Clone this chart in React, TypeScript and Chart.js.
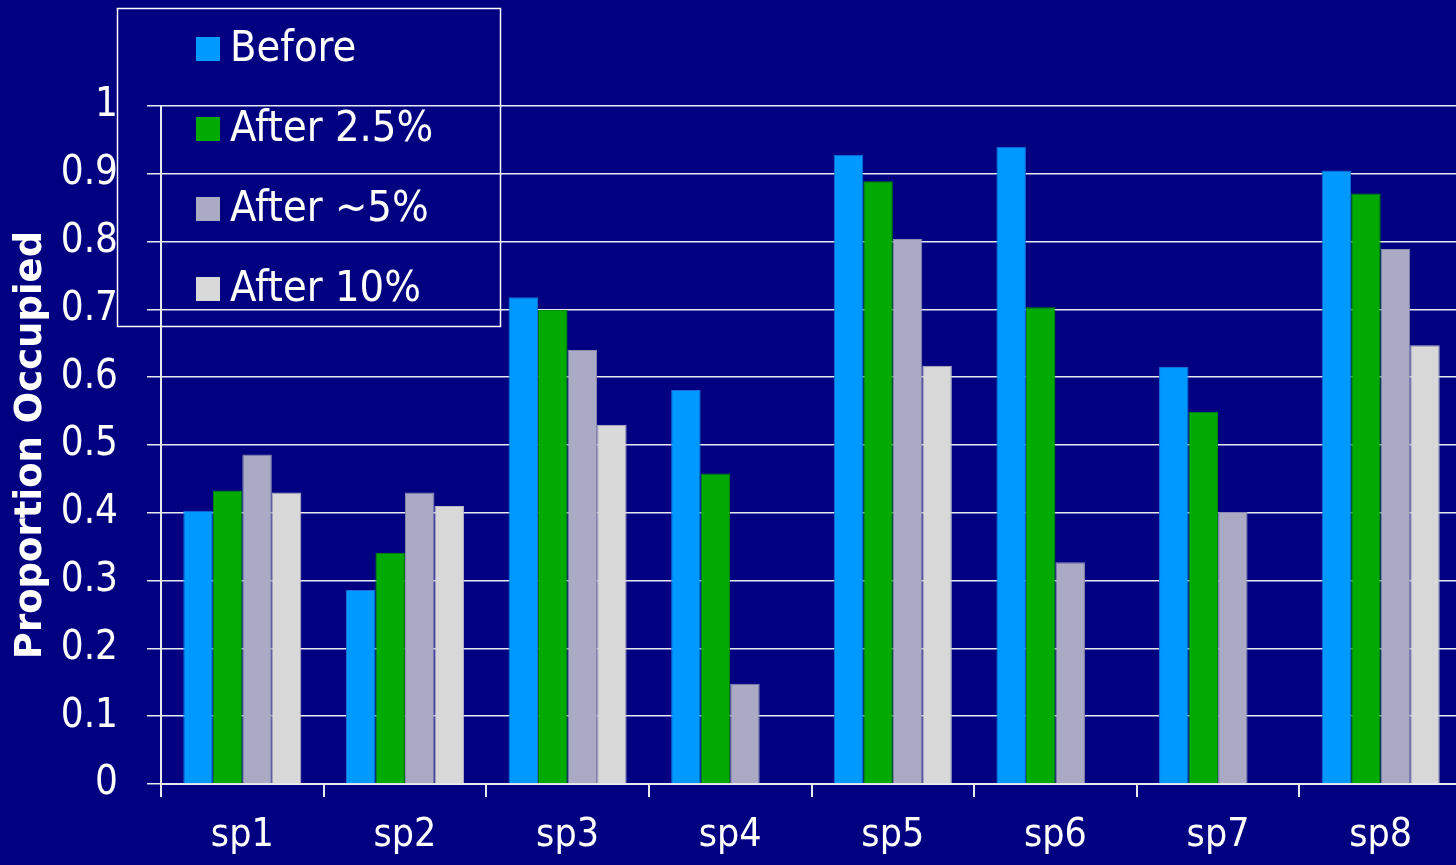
import React, { useEffect, useRef } from "react";
import { Chart, registerables } from "chart.js";

Chart.register(...registerables);

const categories = ["sp1", "sp2", "sp3", "sp4", "sp5", "sp6", "sp7", "sp8"];
const seriesLabels = ["Before", "After 2.5%", "After ~5%", "After 10%"];
const before = [0.403, 0.286, 0.718, 0.581, 0.928, 0.94, 0.615, 0.905];
const after25 = [0.433, 0.341, 0.699, 0.458, 0.889, 0.703, 0.549, 0.871];
const after5 = [0.486, 0.43, 0.64, 0.148, 0.804, 0.327, 0.401, 0.789];
const after10 = [0.43, 0.41, 0.53, null, 0.617, null, null, 0.647];
const yTicks = [0, 0.1, 0.2, 0.3, 0.4, 0.5, 0.6, 0.7, 0.8, 0.9, 1];

const fills = ["#0099FF", "#00AA00", "#AAAAC4", "#D8D8D8"];
const borders = ["#1470D8", "#008800", "#8C8CB0", "#B8B8C8"];
const FONT = "'DejaVu Sans Condensed', 'DejaVu Sans', sans-serif";
const TITLE_FONT = "'DejaVu Sans', sans-serif";
const BG = "#000080";

const legendPlugin = {
  id: "boxLegend",
  afterDraw(chart: any) {
    const ctx = chart.ctx;
    ctx.save();
    ctx.strokeStyle = "#FFFFFF";
    ctx.lineWidth = 1.5;
    ctx.strokeRect(117.5, 8.5, 383, 318);
    ctx.font = `43px ${FONT}`;
    ctx.textBaseline = "middle";
    ctx.textAlign = "left";
    chart.data.datasets.forEach((ds: any, i: number) => {
      const cy = 49 + i * 80;
      ctx.fillStyle = ds.backgroundColor;
      ctx.fillRect(196, cy - 12, 24, 24);
      ctx.fillStyle = "#FFFFFF";
      ctx.fillText(ds.label, 230, cy + 1);
    });
    ctx.restore();
  },
};

export default function App() {
  const ref = useRef<HTMLCanvasElement>(null);
  useEffect(() => {
    document.body.style.margin = "0";
    document.body.style.background = BG;
    document.documentElement.style.overflow = "hidden";
    const data = [before, after25, after5, after10];
    const chart = new Chart(ref.current!, {
      type: "bar",
      data: {
        labels: categories,
        datasets: seriesLabels.map((label, i) => ({
          label,
          data: data[i],
          backgroundColor: fills[i],
          borderColor: borders[i],
          borderWidth: 1,
          categoryPercentage: 0.726,
          barPercentage: 1.0,
        })),
      },
      options: {
        responsive: false,
        animation: false,
        layout: { padding: { top: 106, right: 0, left: 0, bottom: 0 } },
        plugins: {
          legend: { display: false },
          tooltip: { enabled: false },
        },
        scales: {
          x: {
            afterFit: (s: any) => {
              s.height = 81;
            },
            grid: {
              drawOnChartArea: false,
              drawTicks: true,
              tickLength: 13,
              color: "#E8E8F0",
              lineWidth: 2,
              offset: true,
            },
            border: { display: true, color: "#E8E8F0", width: 2 },
            ticks: {
              color: "#FFFFFF",
              font: { family: FONT, size: 39 },
              padding: 15,
            },
          },
          y: {
            min: 0,
            max: 1,
            afterFit: (s: any) => {
              s.width = 161;
            },
            afterBuildTicks: (s: any) => {
              s.ticks = yTicks.map((v) => ({ value: v }));
            },
            grid: {
              color: "#E8E8F0",
              lineWidth: 1.5,
              tickLength: 14,
              drawTicks: true,
            },
            border: { display: true, color: "#E8E8F0", width: 2 },
            ticks: {
              color: "#FFFFFF",
              font: { family: FONT, size: 40 },
              padding: 29,
              callback: (v: any) => String(Math.round(Number(v) * 10) / 10),
            },
            title: {
              display: true,
              text: "Proportion Occupied",
              color: "#FFFFFF",
              font: { family: TITLE_FONT, size: 37, weight: "bold" },
              padding: { top: 9, bottom: 0 },
            },
          },
        },
      },
      plugins: [
        {
          id: "bg",
          beforeDraw(c: any) {
            const ctx = c.ctx;
            ctx.save();
            ctx.fillStyle = BG;
            ctx.fillRect(0, 0, c.width, c.height);
            ctx.restore();
          },
        },
        legendPlugin,
      ],
    });
    return () => chart.destroy();
  }, []);
  return (
    <div style={{ position: "fixed", left: 0, top: 0, width: 1462, height: 865, background: BG }}>
      <canvas ref={ref} width={1462} height={865} />
    </div>
  );
}
